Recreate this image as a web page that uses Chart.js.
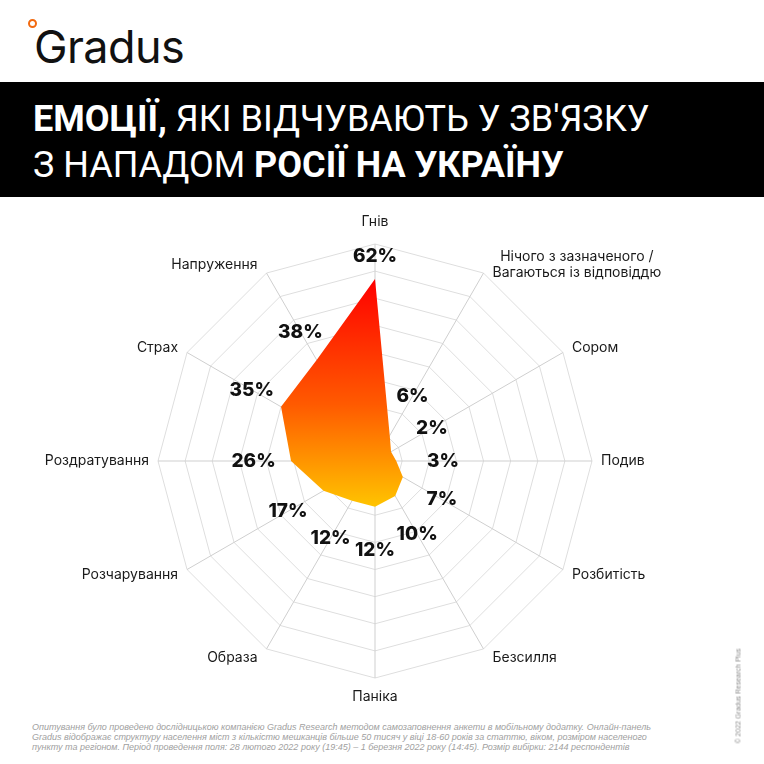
<!DOCTYPE html>
<html lang="uk">
<head>
<meta charset="utf-8">
<title>Емоції у зв'язку з нападом Росії на Україну</title>
<script src="https://cdn.jsdelivr.net/npm/chart.js@4.4.0/dist/chart.umd.min.js"></script>
<style>
  html, body { margin: 0; padding: 0; background: #fff; }
  body { width: 764px; height: 764px; position: relative; overflow: hidden; }
  .logo-ring {
    position: absolute; left: 28px; top: 19px; width: 5px; height: 5px;
    border: 2.5px solid #f26a10; border-radius: 50%;
  }
  .logo {
    position: absolute; left: 34px; top: 25px; font-family: Inter, sans-serif;
    font-size: 45px; line-height: 44px; color: #111; letter-spacing: -0.6px;
  }
  .band { position: absolute; left: 0; top: 82px; width: 764px; height: 115px; background: #000; }
  .title {
    position: absolute; left: 33px; top: 96px; font-family: Roboto, sans-serif;
    font-size: 36px; line-height: 46px; color: #fff; white-space: nowrap;
  }
  .title b { font-weight: 700; }
  #chart { position: absolute; left: 0; top: 197px; }
  .note {
    position: absolute; left: 32px; top: 722px; width: 599px;
    font-family: "Liberation Sans", Arial, sans-serif; font-style: italic;
    font-size: 9px; line-height: 10px; color: #a0a0a0;
  }
  .note div { text-align: justify; text-align-last: justify; white-space: nowrap; }
  .note div:last-child { text-align-last: left; }
  .copy {
    position: absolute; left: 738px; top: 696px; transform: translate(-50%, -50%) rotate(-90deg);
    font-family: "Liberation Sans", Arial, sans-serif; font-size: 7px; color: #8a8a8a; white-space: nowrap;
  }
</style>
</head>
<body>
<div class="logo-ring"></div>
<div class="logo">Gradus</div>
<div class="band"></div>
<div class="title"><b>ЕМОЦІЇ,</b> ЯКІ ВІДЧУВАЮТЬ У ЗВ'ЯЗКУ<br>З НАПАДОМ <b>РОСІЇ НА УКРАЇНУ</b></div>
<canvas id="chart" width="764" height="515"></canvas>
<div class="note">
  <div>Опитування було проведено дослідницькою компанією Gradus Research методом самозаповнення анкети в мобільному додатку. Онлайн-панель</div>
  <div>Gradus відображає структуру населення міст з кількістю мешканців більше 50 тисяч у віці 18-60 років за статтю, віком, розміром населеного</div>
  <div>пункту та регіоном. Період проведення поля: 28 лютого 2022 року (19:45) – 1 березня 2022 року (14:45). Розмір вибірки: 2144 респондентів</div>
</div>
<div class="copy">© 2022 Gradus Research Plus</div>

<script>
// Data (share of respondents, %)
const emotions = [
    'Гнів',
    'Нічого з зазначеного /\nВагаються із відповіддю',
    'Сором',
    'Подив',
    'Розбитість',
    'Безсилля',
    'Паніка',
    'Образа',
    'Розчарування',
    'Роздратування',
    'Страх',
    'Напруження'
];
const shares = [62, 6, 2, 3, 7, 10, 12, 12, 17, 26, 35, 38];

// Radial scale: the picture's axis does not start at zero
const scaleMin = -4.8;
const scaleMax = 74.8;
const ringCount = 8;

// Gradient fill: red at the top of the shape, yellow at the bottom
function shapeGradient(context) {
    const chart = context.chart;
    const scale = chart.scales.r;
    if (!scale || !scale.drawingArea) return '#ff6000';
    let top = Infinity, bottom = -Infinity;
    shares.forEach((v, i) => {
        const p = scale.getPointPositionForValue(i, v);
        top = Math.min(top, p.y);
        bottom = Math.max(bottom, p.y);
    });
    const g = chart.ctx.createLinearGradient(0, top, 0, bottom);
    g.addColorStop(0, '#ff0000');
    g.addColorStop(0.55, '#ff5a00');
    g.addColorStop(1, '#ffc400');
    return g;
}

// Category names around the web and bold value labels near each point
const labelsPlugin = {
    id: 'radarLabels',
    afterDatasetsDraw(chart) {
        const ctx = chart.ctx;
        const scale = chart.scales.r;
        const n = emotions.length;
        ctx.save();
        ctx.fillStyle = '#1a1a1a';
        ctx.font = '400 14px Inter, sans-serif';
        ctx.textBaseline = 'middle';
        emotions.forEach((name, i) => {
            const ang = i * 2 * Math.PI / n;
            const s = Math.sin(ang), c = Math.cos(ang);
            const p = scale.getPointPositionForValue(i, scale.max);
            const lines = name.split('\n');
            const lineH = 16;
            let x = p.x, y = p.y - 10 * c;
            if (Math.abs(s) < 0.01) {
                y = p.y + (c > 0 ? -22 : 19);
            } else {
                x += s > 0 ? 9 : -9;
            }
            const widths = lines.map(l => ctx.measureText(l).width);
            const maxW = Math.max(...widths);
            let blockCx = x;
            if (Math.abs(s) >= 0.01) blockCx = s > 0 ? x + maxW / 2 : x - maxW / 2;
            ctx.textAlign = 'center';
            lines.forEach((l, k) => {
                const ly = y + (k - (lines.length - 1) / 2) * lineH;
                ctx.fillText(l, blockCx, ly);
            });
        });

        ctx.fillStyle = '#111';
        ctx.font = '800 19px Inter, sans-serif';
        ctx.textAlign = 'center';
        shares.forEach((v, i) => {
            const rp = scale.getDistanceFromCenterForValue(v);
            const pos = scale.getPointPosition(i, 50 + 0.85 * rp);
            ctx.fillText(v + '%', pos.x, pos.y);
        });
        ctx.restore();
    }
};

new Chart(document.getElementById('chart'), {
    type: 'radar',
    data: {
        labels: emotions,
        datasets: [{
            data: shares,
            fill: 'start',
            backgroundColor: shapeGradient,
            borderWidth: 0,
            pointRadius: 0,
            tension: 0
        }]
    },
    options: {
        responsive: false,
        animation: false,
        devicePixelRatio: 1,
        layout: { padding: { left: 158, right: 172, top: 47, bottom: 34 } },
        plugins: { legend: { display: false }, tooltip: { enabled: false } },
        scales: {
            r: {
                min: scaleMin,
                max: scaleMax,
                beginAtZero: false,
                ticks: { display: false, stepSize: (scaleMax - scaleMin) / ringCount },
                grid: { color: '#dedede', lineWidth: 1, circular: false },
                angleLines: { color: '#cfcfcf', lineWidth: 1 },
                pointLabels: { display: false }
            }
        }
    },
    plugins: [labelsPlugin]
});
</script>
</body>
</html>
